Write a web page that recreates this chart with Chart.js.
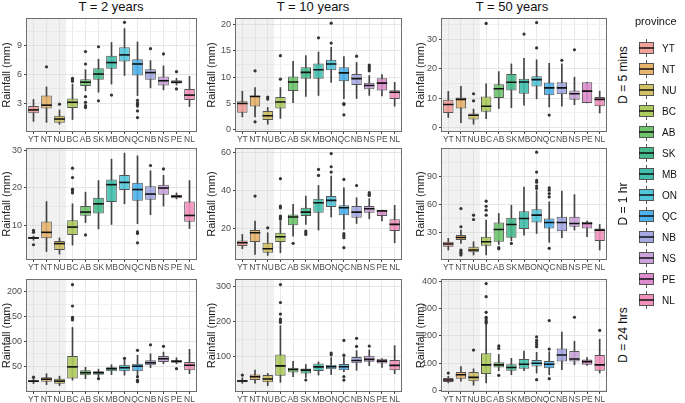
<!DOCTYPE html>
<html>
<head>
<meta charset="utf-8">
<script src="https://cdn.jsdelivr.net/npm/chart.js@4.4.1/dist/chart.umd.min.js"></script>
<style>
  body { margin: 0; background: #fff; font-family: "Liberation Sans", Arial, sans-serif; }
  #wrap { position: relative; width: 685px; height: 403px; overflow: hidden; }
  canvas { position: absolute; }
  .title { position: absolute; top: -1px; font-size: 13px; color: #111; transform: translateX(-50%); white-space: nowrap; }
  .strip { position: absolute; font-size: 12px; color: #111; transform: translate(-50%, -50%) rotate(-90deg); white-space: nowrap; }
</style>
</head>
<body>
<div id="wrap"></div>
<script>
const provinces = ["YT", "NT", "NU", "BC", "AB", "SK", "MB", "ON", "QC", "NB", "NS", "PE", "NL"];
const colours = ["#F3A19B", "#E9B46C", "#D2C264", "#AECB5E", "#6EC56E", "#45BA8C", "#42C0AD",
                 "#52C7DC", "#4CB3EC", "#A5A9E2", "#CBA2DC", "#DD8DCD", "#F290BC"];
const periods = ["T = 2 years", "T = 10 years", "T = 50 years"];
const durations = ["D = 5 mins", "D = 1 hr", "D = 24 hrs"];

// each row: [lower whisker, Q1, median, Q3, upper whisker], one per province
const box_2y_5min = [[1.1,1.95,2.3,2.7,3.4],[1.0,2.45,2.8,3.8,4.7],[0.8,0.95,1.35,1.7,2.3],[1.3,2.5,3.1,3.5,5.0],
  [4.3,4.8,5.2,5.5,6.5],[4.15,5.45,6.05,6.65,7.6],[5.0,6.6,7.25,7.95,9.35],[5.9,7.35,8.05,8.85,10.8],
  [3.8,5.9,7.1,7.6,9.4],[4.6,5.45,6.2,6.55,7.45],[4.4,4.85,5.35,5.8,6.9],[4.9,5.05,5.2,5.4,5.6],[2.65,3.35,3.85,4.5,5.8]];
const box_10y_5min = [[2.4,3.2,4.95,5.4,7.3],[2.4,4.4,6.3,6.5,8.0],[1.0,1.8,2.6,3.5,4.2],[2.1,4.0,5.25,6.2,8.0],
  [5.1,7.35,9.05,10.1,13.0],[6.3,9.7,10.9,11.9,14.1],[6.5,9.7,11.4,12.6,14.8],[9.0,11.3,12.5,13.3,15.7],
  [5.9,9.2,10.8,11.9,13.9],[5.9,8.5,9.7,10.6,12.8],[6.5,7.7,8.4,8.9,10.3],[6.4,7.45,8.85,9.8,10.5],[4.45,5.8,7.1,7.5,9.0]];
const box_50y_5min = [[3.5,5.0,7.85,9.5,12.3],[1.7,6.5,9.6,10.2,14.0],[1.2,2.8,4.25,4.8,6.3],[3.1,5.4,7.3,10.6,14.9],
  [6.5,10.1,13.2,14.7,19.0],[6.8,12.6,15.4,18.2,21.6],[7.6,11.5,15.5,16.6,23.5],[9.8,14.0,16.3,17.4,23.0],
  [7.0,11.0,13.5,15.3,21.8],[7.3,11.3,13.5,15.4,21.6],[7.8,9.5,11.5,12.6,17.1],[8.4,8.4,12.4,15.4,15.4],[5.0,7.3,9.6,10.4,12.4]];
const box_2y_1hr = [[6.0,6.4,6.6,6.85,7.1],[3.0,6.5,8.1,11.0,16.3],[2.3,3.4,5.1,5.8,6.6],[4.7,7.4,9.5,11.3,15.7],
  [10.7,12.5,13.5,15.1,18.8],[9.0,13.1,15.7,17.3,21.9],[10.2,16.2,20.8,22.2,27.6],[15.7,19.4,21.4,23.4,29.2],
  [10.4,16.5,19.5,21.3,28.5],[12.8,16.8,18.3,20.4,24.5],[15.1,18.1,19.9,20.8,23.3],[17.0,17.2,17.7,18.1,18.6],[9.1,10.9,12.6,16.3,21.9]];
const box_10y_1hr = [[9.2,10.7,12.4,13.6,16.8],[6.2,12.8,17.7,19.1,23.9],[5.7,7.1,9.2,12.4,17.7],[7.1,12.8,15.6,17.7,23.9],
  [15.9,21.6,26.0,27.4,32.7],[22.1,26.5,28.6,30.9,37.1],[19.1,28.3,33.6,35.7,42.7],[26.0,31.3,34.8,37.1,47.7],
  [19.5,27.0,30.9,32.2,41.5],[22.6,25.6,28.6,31.8,36.2],[25.1,28.3,30.4,31.8,35.7],[23.9,26.5,29.2,29.7,29.7],[12.4,18.6,22.1,24.8,32.2]];
const box_50y_1hr = [[11.1,14.6,17.5,20.0,23.6],[18.2,21.8,24.6,27.1,32.5],[5.7,8.6,11.1,14.6,20.0],[5.7,15.7,20.0,25.4,43.2],
  [17.0,20.0,33.2,40.7,50.4],[21.0,24.3,38.6,45.7,59.3],[27.1,33.6,45.0,52.9,78.9],[28.9,40.7,48.6,55.0,75.0],
  [19.3,34.3,40.7,45.0,62.9],[24.3,31.4,40.7,46.8,74.6],[32.5,36.1,39.6,46.8,70.7],[25.4,34.3,39.6,41.4,42.1],[11.1,20.7,32.5,34.3,38.6]];
const box_2y_24hr = [[15,18,20,22,25],[13,19,24,28,35],[11,15,20,25,30],[22,25.4,48.7,70.6,128],
  [25,32,37,42,48],[28,33,37,40,44],[33,40,45,48,53],[32,40,47,53,64],
  [32,40,50,55,72],[47,52,57,62,75],[55,58.6,65,70.6,78.5],[55,57,60,62,67],[35,42,52,58.6,84]];
const box_10y_24hr = [[25,27.7,31.5,34.3,40.8],[25,34.3,43.7,50.2,62.4],[18.3,27.7,37.1,48.4,53],[27.7,46.5,74.6,106.6,189],
  [43.7,55.9,64.3,69,87.8],[40.8,53,62.4,67.1,78.4],[48.4,59.6,71.8,81.2,85.9],[50,65,72,78,98],
  [57.7,62,72,80,100],[62,82,90,100,118],[75,86,93,103,120],[70,81,88,95,95],[52,62,76,91,132]];
const box_50y_24hr = [[27.6,31.2,38.4,45.6,51.6],[33.6,43.2,57.6,67.2,87.6],[19.2,33.6,48,67.2,79.2],[27.6,60,93.6,135.7,243.7],
  [72,84,93.6,103.2,132],[57.6,72,84,96,117.6],[72,79.2,96,115.2,144],[63.6,87.6,99.6,111.6,139.3],
  [57.6,81.6,96,108,141.7],[75.6,105.6,129.7,153.7,213.7],[93.6,105.6,115.2,144,180],[91.2,93.6,105.6,112.8,120],[63.6,72,93.6,129.7,187.3]];

// outlying points: [province, rainfall]
const out_2y_5min = [["NT",6.8],["NU",2.9],["BC",5.3],["BC",5.45],["BC",5.6],["AB",8.4],["AB",7.1],["AB",3.7],["AB",3.1],
  ["AB",2.75],["AB",2.55],["SK",8.9],["SK",3.25],["MB",3.85],["ON",11.45],["QC",3.3],["QC",3.05],["QC",2.9],["QC",2.7],
  ["QC",2.2],["QC",1.5],["NB",8.7],["NS",8.15],["PE",6.3],["PE",4.5]];
const out_10y_5min = [["NT",11.2],["NT",1.45],["NU",6.2],["NU",5.8],["BC",9.6],["BC",14.1],["MB",17.5],["ON",16.5],["ON",20.3],
  ["QC",4.95],["QC",4.75],["QC",2.8],["NB",14.0],["NS",12.3],["NS",12.0],["NS",11.6],["NS",11.2]];
const out_50y_5min = [["NU",11.5],["NU",9.1],["BC",35.3],["MB",31.7],["ON",35.6],["ON",27.0],["QC",4.3],["NB",22.8],["NS",26.4]];
const out_2y_1hr = [["YT",8.6],["YT",8.1],["YT",4.8],["BC",25.2],["BC",22.7],["BC",19.6],["BC",19.2],["BC",18.6],["AB",7.4],
  ["QC",8.2],["QC",7.8],["QC",5.3],["NB",25.9],["NS",25.0]];
const out_10y_1hr = [["NT",37.1],["NU",20.3],["BC",46.3],["BC",31.8],["BC",30.9],["BC",26.5],["BC",25.6],["BC",24.9],["AB",12.1],
  ["SK",18.6],["SK",17.7],["SK",16.8],["MB",51.2],["MB",48.0],["ON",59.6],["ON",52.6],["ON",49.8],["QC",45.9],["QC",17.2],
  ["QC",16.2],["QC",15.1],["QC",9.8],["NB",42.7],["NS",38.9],["NS",38.0],["NS",37.4]];
const out_50y_1hr = [["NT",55.7],["NT",36.1],["NT",11.1],["NT",9.3],["NT",7.5],["NT",5.7],["NU",48.6],["NU",43.9],["BC",63.6],
  ["BC",58.2],["BC",53.9],["BC",48.6],["AB",13.6],["AB",12.4],["SK",18.2],["ON",116.4],["ON",95.0],["ON",86.0],["ON",84.0],
  ["ON",80.0],["ON",77.5],["QC",77.9],["QC",75.4],["QC",71.8],["QC",68.2],["QC",12.9]];
const out_2y_24hr = [["YT",28],["BC",214],["BC",171],["BC",148],["BC",146],["BC",143],["SK",25],["ON",66],["QC",82],["QC",29],
  ["QC",22],["QC",19],["NB",93],["NS",90],["PE",45]];
const out_10y_24hr = [["YT",48.4],["BC",306],["BC",255],["BC",222],["BC",208],["BC",203],["BC",198],["SK",34.3],["ON",111],["ON",106],
  ["QC",147],["QC",105],["QC",44],["QC",34],["NB",153],["NB",130],["NS",131]];
const out_50y_24hr = [["YT",63.6],["NU",147.7],["BC",391],["BC",343],["BC",285.7],["BC",267.7],["BC",262],["BC",255],["BC",250],
  ["BC",247],["AB",163],["AB",153.6],["AB",55.2],["ON",195.7],["ON",183.7],["ON",175],["ON",168],["ON",160],["ON",39.6],
  ["QC",255.7],["QC",151.3],["QC",43.2],["NS",267.7],["NL",219.7]];

const boxes = [[box_2y_5min, box_10y_5min, box_50y_5min],
               [box_2y_1hr, box_10y_1hr, box_50y_1hr],
               [box_2y_24hr, box_10y_24hr, box_50y_24hr]];
const outliers = [[out_2y_5min, out_10y_5min, out_50y_5min],
                  [out_2y_1hr, out_10y_1hr, out_50y_1hr],
                  [out_2y_24hr, out_10y_24hr, out_50y_24hr]];
const yMin = [[0.1, -0.3, -1.1], [1.0, 3.8, 1.4], [0.2, 3, -2]];
const yMax = [[11.8, 21.1, 36.8], [30.3, 62, 119.8], [223.3, 319, 404]];
const yStep = [[3, 5, 10], [10, 20, 30], [50, 100, 100]];
const shadedCount = 3; // YT, NT, NU

// panel frame in page pixels
const colLeft = [27, 236, 442], colRight = [197, 402, 607], yAxisW = [27, 31, 28];
const rowTop = [18, 148, 279], rowBottom = [131, 259, 391];

Chart.defaults.font.family = '"Liberation Sans", Arial, sans-serif';
const wrap = document.getElementById("wrap");

const panelDeco = {
  id: "panelDeco",
  beforeDatasetsDraw(chart) {
    const a = chart.chartArea, x = chart.scales.x, c = chart.ctx;
    const xr = x.getPixelForValue(shadedCount - 0.5);
    c.save();
    c.fillStyle = "rgba(210,210,210,0.32)";
    c.fillRect(a.left, a.top, xr - a.left, a.bottom - a.top);
    c.restore();
  },
  afterDraw(chart) {
    const a = chart.chartArea, c = chart.ctx;
    c.save();
    c.strokeStyle = "#6e6e6e";
    c.lineWidth = 1;
    c.strokeRect(Math.round(a.left) - 0.5, Math.round(a.top) - 0.5,
                 Math.round(a.right - a.left) + 1, Math.round(a.bottom - a.top) + 1);
    c.restore();
  }
};

function isMajor(v, step) {
  return Math.abs(v / step - Math.round(v / step)) < 1e-6;
}

function makePanel(row, col) {
  const L = colLeft[col], R = colRight[col], T = rowTop[row], B = rowBottom[row], yw = yAxisW[col];
  const left = L - yw, top = T - 3;
  const cv = document.createElement("canvas");
  cv.width = R + 3 - left;
  cv.height = B + 15 - top;
  cv.style.left = left + "px";
  cv.style.top = top + "px";
  cv.style.width = cv.width + "px";
  cv.style.height = cv.height + "px";
  wrap.appendChild(cv);

  const stats = boxes[row][col];
  const step = yStep[row][col];
  const half = step / 2;
  const boxW = (ctx) => ctx.chart.scales.x.width / provinces.length * 0.41;

  new Chart(cv, {
    data: {
      labels: provinces,
      datasets: [
        {
          type: "line",
          data: outliers[row][col].map((o) => ({ x: o[0], y: o[1] })),
          showLine: false,
          pointRadius: 1.6,
          pointBackgroundColor: "#333",
          pointBorderWidth: 0,
          order: 0
        },
        {
          type: "line",
          data: stats.map((s) => s[2]),
          showLine: false,
          pointStyle: "line",
          pointRadius: boxW,
          pointBorderColor: "#111",
          pointBorderWidth: 1.6,
          order: 1
        },
        {
          type: "bar",
          data: stats.map((s) => [s[1], s[3]]),
          backgroundColor: colours.map((c) => c + "E6"),
          borderColor: "#555",
          borderWidth: 1,
          borderSkipped: false,
          grouped: false,
          barPercentage: 0.82,
          categoryPercentage: 1,
          order: 2
        },
        {
          type: "bar",
          data: stats.map((s) => [s[0], s[4]]),
          backgroundColor: "#444",
          barThickness: 1,
          grouped: false,
          order: 3
        }
      ]
    },
    options: {
      responsive: false,
      animation: false,
      devicePixelRatio: 1,
      layout: { padding: { top: 3, right: 3, left: 0, bottom: 0 } },
      plugins: { legend: { display: false }, tooltip: { enabled: false } },
      scales: {
        x: {
          type: "category",
          offset: true,
          grid: { offset: false, color: "#e9e9e9", tickColor: "#444", tickLength: 3 },
          border: { display: false },
          ticks: { autoSkip: false, maxRotation: 0, minRotation: 0, padding: 1,
                   color: "#4d4d4d", font: { size: 8.5 } },
          afterFit(s) { s.height = 15; s.paddingLeft = 0; s.paddingRight = 0; }
        },
        y: {
          min: yMin[row][col],
          max: yMax[row][col],
          border: { display: false },
          title: { display: true, text: "Rainfall (mm)", color: "#1a1a1a",
                   font: { size: 11 }, padding: 0 },
          grid: {
            color: (ctx) => ctx.tick && isMajor(ctx.tick.value, step) ? "#e6e6e6" : "#f2f2f2",
            tickColor: (ctx) => ctx.tick && isMajor(ctx.tick.value, step) ? "#444" : "rgba(0,0,0,0)",
            tickLength: 3
          },
          ticks: {
            stepSize: half,
            includeBounds: false,
            padding: 2,
            color: "#4d4d4d",
            font: { size: 9 },
            callback: (v) => isMajor(v, step) ? String(v) : ""
          },
          afterBuildTicks(s) {
            s.ticks = s.ticks.filter((t) => isMajor(t.value, half) &&
              t.value >= yMin[row][col] && t.value <= yMax[row][col]);
          },
          afterFit(s) { s.width = yw; s.paddingTop = 0; s.paddingBottom = 0; }
        }
      }
    },
    plugins: [panelDeco]
  });
}

for (let r = 0; r < 3; r++) {
  for (let c = 0; c < 3; c++) makePanel(r, c);
}

// column titles
const titleX = [111, 313, 512];
periods.forEach((t, i) => {
  const d = document.createElement("div");
  d.className = "title";
  d.style.left = titleX[i] + "px";
  d.textContent = t;
  wrap.appendChild(d);
});

// row strips
durations.forEach((t, i) => {
  const d = document.createElement("div");
  d.className = "strip";
  d.style.left = "623px";
  d.style.top = ((rowTop[i] + rowBottom[i]) / 2) + "px";
  d.textContent = t;
  wrap.appendChild(d);
});

// legend
const lg = document.createElement("canvas");
lg.width = 55; lg.height = 315;
lg.style.left = "630px"; lg.style.top = "0px";
wrap.appendChild(lg);
const g = lg.getContext("2d");
g.fillStyle = "#111";
g.font = '11px "Liberation Sans", Arial, sans-serif';
g.textBaseline = "middle";
g.fillText("province", 5, 22);
g.font = '10px "Liberation Sans", Arial, sans-serif';
provinces.forEach((p, i) => {
  const cy = 48 + 21 * i, cx = 16;
  g.strokeStyle = "#555";
  g.lineWidth = 1;
  g.beginPath();
  g.moveTo(cx + 0.5, cy - 9); g.lineTo(cx + 0.5, cy + 9);
  g.stroke();
  g.fillStyle = colours[i];
  g.fillRect(9, cy - 6, 15, 12);
  g.strokeRect(9.5, cy - 5.5, 14, 11);
  g.strokeStyle = "#111";
  g.lineWidth = 1.5;
  g.beginPath();
  g.moveTo(9, cy); g.lineTo(24, cy);
  g.stroke();
  g.fillStyle = "#111";
  g.fillText(p, 32, cy + 1);
});
</script>
</body>
</html>
